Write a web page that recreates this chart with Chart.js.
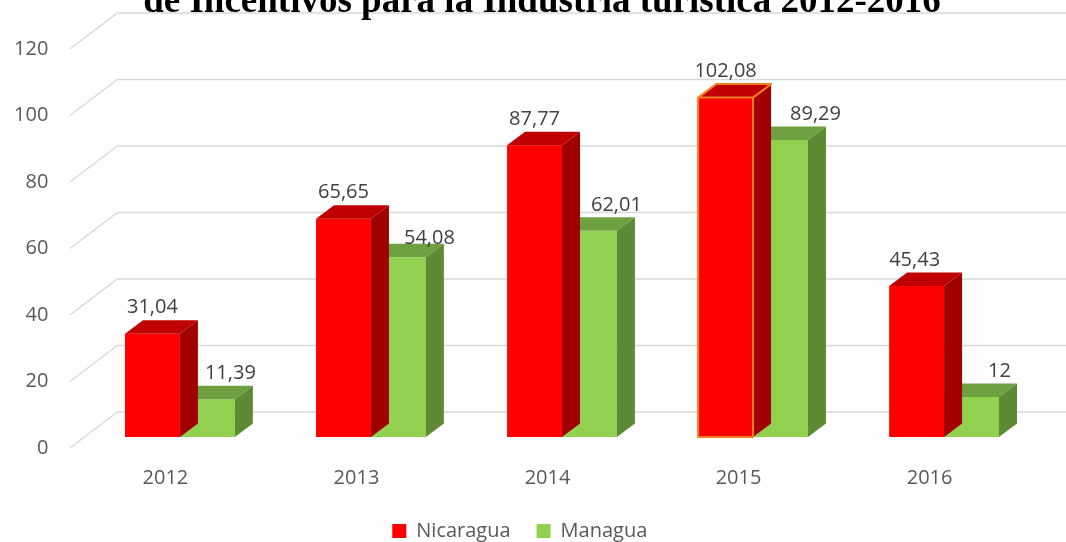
<!DOCTYPE html>
<html><head><meta charset="utf-8">
<script src="https://cdn.jsdelivr.net/npm/chart.js@4.4.0/dist/chart.umd.min.js"></script>
<style>html,body{margin:0;padding:0;background:#fff;overflow:hidden}#wrap{position:relative;width:1066px;height:542px}</style>
</head><body><div id="wrap"><canvas id="c" width="1066" height="542"></canvas></div>
<script>
const categories = ['2012', '2013', '2014', '2015', '2016'];
const nicaragua = [31.04, 65.65, 87.77, 102.08, 45.43];
const managua = [11.39, 54.08, 62.01, 89.29, 12];
const yTicks = [0, 20, 40, 60, 80, 100, 120];
const seriesNames = ['Nicaragua', 'Managua'];
const titleText = 'de Incentivos para la Industria turística 2012-2016';

const DEPTH = {dx: 18, dy: -13.5};
const WALL = {dx: 33, dy: -25};
const FRONT = {dx: -14.5, dy: 11};
const faceColors = [
  {front: '#FF0000', top: '#C00000', side: '#A00000'},
  {front: '#92D050', top: '#6FA03F', side: '#5E8A34'}
];
const highlight = {dataset: 0, index: 3, color: '#F07F22'};
const labelNudgeX = [[0, 0, 0, 0, -2], [23, 31, 27, 35, 28]];
const labelNudgeY = [[0, 0, 0, 0, 0], [0, 7, 0, 0, 0]];

function fmt(v) { return String(v).replace('.', ','); }

const plugin3d = {
  id: 'bars3d',
  beforeDatasetsDraw(chart) {
    const {ctx, chartArea, scales: {y}} = chart;
    ctx.save();
    ctx.strokeStyle = '#D9D9D9';
    ctx.lineWidth = 1.5;
    y.ticks.forEach(t => {
      const py = y.getPixelForValue(t.value);
      ctx.beginPath();
      ctx.moveTo(chartArea.left + FRONT.dx, py + FRONT.dy);
      ctx.lineTo(chartArea.left + WALL.dx, py + WALL.dy);
      ctx.lineTo(chart.width, py + WALL.dy);
      ctx.stroke();
    });
    ctx.restore();
  },
  afterDatasetDraw(chart, args) {
    const c = faceColors[args.index];
    const ctx = chart.ctx;
    ctx.save();
    args.meta.data.forEach(el => {
      const {x, y, base, width} = el.getProps(['x', 'y', 'base', 'width'], true);
      const l = x - width / 2, r = x + width / 2;
      ctx.fillStyle = c.top;
      ctx.beginPath();
      ctx.moveTo(l, y); ctx.lineTo(l + DEPTH.dx, y + DEPTH.dy);
      ctx.lineTo(r + DEPTH.dx, y + DEPTH.dy); ctx.lineTo(r, y);
      ctx.closePath(); ctx.fill();
      ctx.fillStyle = c.side;
      ctx.beginPath();
      ctx.moveTo(r, y); ctx.lineTo(r + DEPTH.dx, y + DEPTH.dy);
      ctx.lineTo(r + DEPTH.dx, base + DEPTH.dy); ctx.lineTo(r, base);
      ctx.closePath(); ctx.fill();
    });
    ctx.restore();
  },
  afterDatasetsDraw(chart) {
    const ctx = chart.ctx;
    ctx.save();
    const hel = chart.getDatasetMeta(highlight.dataset).data[highlight.index];
    if (hel) {
      const {x, y, base, width} = hel.getProps(['x', 'y', 'base', 'width'], true);
      const l = x - width / 2, r = x + width / 2;
      ctx.strokeStyle = highlight.color;
      ctx.lineWidth = 2;
      ctx.lineJoin = 'round';
      ctx.beginPath();
      ctx.moveTo(l, base); ctx.lineTo(l, y); ctx.lineTo(l + DEPTH.dx, y + DEPTH.dy);
      ctx.lineTo(r + DEPTH.dx, y + DEPTH.dy); ctx.lineTo(r, y); ctx.lineTo(r, base);
      ctx.closePath();
      ctx.moveTo(l, y); ctx.lineTo(r, y);
      ctx.stroke();
    }
    ctx.font = '20px "Open Sans"';
    ctx.fillStyle = '#404040';
    ctx.textAlign = 'center';
    ctx.textBaseline = 'middle';
    chart.data.datasets.forEach((ds, di) => {
      chart.getDatasetMeta(di).data.forEach((el, i) => {
        const {x, y} = el.getProps(['x', 'y'], true);
        ctx.fillText(fmt(ds.data[i]), x + labelNudgeX[di][i], y + DEPTH.dy - 12.5 + labelNudgeY[di][i]);
      });
    });
    ctx.restore();
  },
  afterDraw(chart) {
    const ctx = chart.ctx;
    ctx.save();
    ctx.font = 'bold 37px "Liberation Serif"';
    ctx.fillStyle = '#000';
    ctx.textAlign = 'center';
    ctx.textBaseline = 'alphabetic';
    ctx.fillText(titleText, 542, 12);
    ctx.restore();
  }
};

Chart.defaults.font.family = '"Open Sans", sans-serif';

new Chart(document.getElementById('c'), {
  type: 'bar',
  data: {
    labels: categories,
    datasets: [
      {label: seriesNames[0], data: nicaragua, backgroundColor: faceColors[0].front, borderWidth: 0},
      {label: seriesNames[1], data: managua, backgroundColor: faceColors[1].front, borderWidth: 0}
    ]
  },
  options: {
    responsive: false,
    animation: false,
    devicePixelRatio: 1,
    categoryPercentage: 0.575,
    barPercentage: 1.0,
    layout: {padding: {top: 38, right: 26.4, bottom: -9, left: 0}},
    plugins: {
      title: {display: false},
      tooltip: {enabled: false},
      legend: {
        position: 'bottom',
        labels: {
          boxWidth: 14, boxHeight: 14, padding: 26,
          color: '#595959',
          font: {size: 20, family: '"Open Sans"'}
        }
      }
    },
    scales: {
      x: {
        grid: {display: false, drawTicks: false},
        border: {display: false},
        ticks: {color: '#595959', font: {size: 20}, padding: 29, labelOffset: FRONT.dx},
        afterFit: s => { s.height = 58; }
      },
      y: {
        min: 0, max: 120,
        grid: {display: false, drawTicks: false},
        border: {display: false},
        ticks: {color: '#595959', font: {size: 20}, padding: 36, labelOffset: FRONT.dy},
        afterBuildTicks: s => { s.ticks = yTicks.map(v => ({value: v})); },
        afterFit: s => { s.width = 84.4; s.paddingTop = 0; s.paddingBottom = 0; }
      }
    }
  },
  plugins: [plugin3d]
});
</script>
</body></html>
